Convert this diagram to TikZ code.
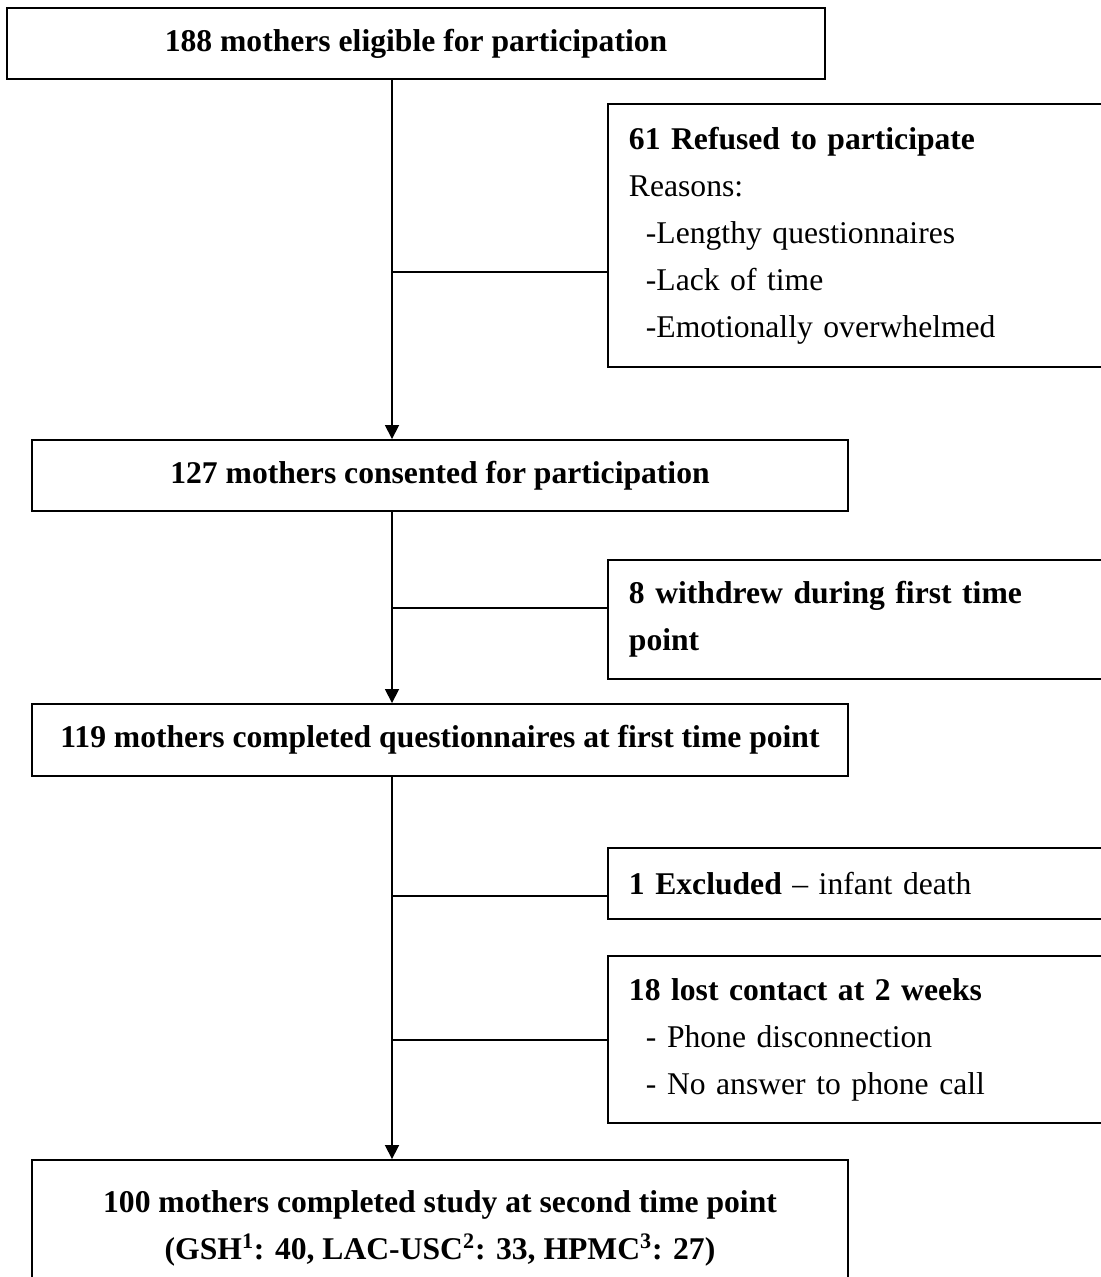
\documentclass[tikz,border=0pt]{standalone}
\usepackage{fontspec}
\setmainfont{Liberation Serif}
\usetikzlibrary{arrows.meta,positioning,calc}

\begin{document}
\begin{tikzpicture}[x=0.02cm, y=-0.02cm, >={Triangle[length=0.28cm,width=0.28cm]},
  mainbox/.style={draw, line width=1.1pt, minimum width=16.32cm, minimum height=1.42cm,
    align=center, font=\fontsize{18}{26.7}\selectfont\bfseries},
  sidebox/.style={draw, line width=1.1pt, anchor=west, text width=9.42cm, inner xsep=0.42cm,
    align=left, font=\fontsize{18}{26.7}\selectfont},
  link/.style={line width=1pt}]
\useasboundingbox (0,0) rectangle (1101,1277);
\clip (0,0) rectangle (1101,1277);
% main column
\node (M1) [mainbox, minimum width=16.36cm] at (416,43.5) {188 mothers eligible for participation};
\node (M2) [mainbox] at (440,475.5) {127 mothers consented for participation};
\node (M3) [mainbox, minimum height=1.44cm] at (440,740) {119 mothers completed questionnaires at first time point};
\node (M4) [mainbox, minimum height=2.72cm] at (440,1228) {100 mothers completed study at second time point\\
  (GSH\textsuperscript{1}: 40, LAC-USC\textsuperscript{2}: 33, HPMC\textsuperscript{3}: 27)};
% side boxes
\node (R1) [sidebox, minimum height=5.26cm] at (607,235.5) {\textbf{61 Refused to participate}\\
  Reasons:\\
  \hspace*{0.34cm}-Lengthy questionnaires\\
  \hspace*{0.34cm}-Lack of time\\
  \hspace*{0.34cm}-Emotionally overwhelmed};
\node (R2) [sidebox, minimum height=2.38cm] at (607,619.5) {\textbf{8 withdrew during first time}\\
  \textbf{point}};
\node (R3) [sidebox, minimum height=1.42cm] at (607,883.5) {\textbf{1 Excluded} -- infant death};
\node (R4) [sidebox, minimum height=3.34cm] at (607,1039.5) {\textbf{18 lost contact at 2 weeks}\\
  \hspace*{0.34cm}- Phone disconnection\\
  \hspace*{0.34cm}- No answer to phone call};
% trunk and branches
\coordinate (T) at (392,0);
\coordinate (B1) at (392,272);
\coordinate (B2) at (392,608);
\coordinate (B3) at (392,896);
\coordinate (B4) at (392,1040);
\draw[link,->] (M1.south -| T) -- (M2.north -| T);
\draw[link,->] (M2.south -| T) -- (M3.north -| T);
\draw[link,->] (M3.south -| T) -- (M4.north -| T);
\draw[link] (B1) -- (B1 -| R1.west);
\draw[link] (B2) -- (B2 -| R2.west);
\draw[link] (B3) -- (B3 -| R3.west);
\draw[link] (B4) -- (B4 -| R4.west);
\end{tikzpicture}
\end{document}
